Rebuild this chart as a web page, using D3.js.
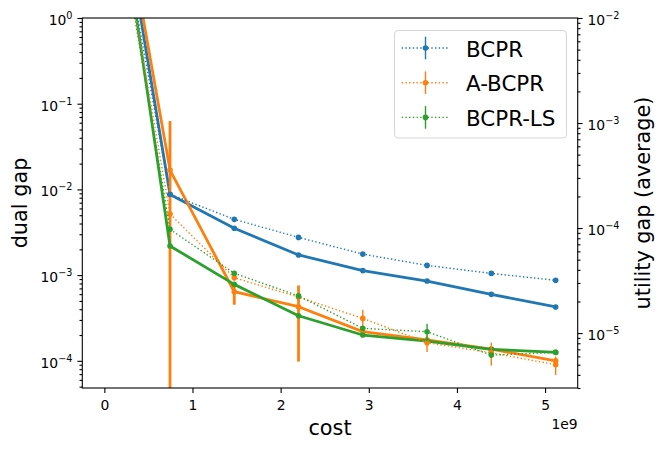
<!DOCTYPE html>
<html><head><meta charset="utf-8">
<script src="https://cdn.jsdelivr.net/npm/d3@7"></script>
<style>
body{margin:0;background:#fff;}
svg text{font-family:"DejaVu Sans",sans-serif;fill:#000;}
</style></head><body>
<svg id="c" width="665" height="450"></svg>
<script>
// ---------------- data ----------------
const methods = ["BCPR", "A-BCPR", "BCPR-LS"];
const colors = ["#1f77b4", "#ff7f0e", "#2ca02c"];
const cost = [0, 0.745e9, 1.474e9, 2.203e9, 2.932e9, 3.661e9, 4.39e9, 5.12e9];

const dualBCPR   = [360, 8.7e-3, 3.52e-3, 1.72e-3, 1.13e-3, 8.53e-4, 5.97e-4, 4.25e-4];
const dualABCPR  = [360, 1.68e-2, 6.4e-4, 4.28e-4, 2.19e-4, 1.76e-4, 1.37e-4, 1.0e-4];
const dualBCPRLS = [360, 2.19e-3, 7.8e-4, 3.36e-4, 2.0e-4, 1.7e-4, 1.36e-4, 1.26e-4];
const dualErrBCPR   = [0, 0, 0, 0, 0, 0, 0, 0];
const dualErrABCPR  = [0, 4.6e-2, 1.9e-4, 3.3e-4, 0, 0, 0, 0];
const dualErrBCPRLS = [0, 0, 0, 0, 0, 0, 0, 0];

const utilBCPR   = [0.55, 2.1e-4, 1.21e-4, 8.15e-5, 5.65e-5, 4.41e-5, 3.7e-5, 3.18e-5];
const utilABCPR  = [0.55, 1.36e-4, 3.37e-5, 2.2e-5, 1.38e-5, 8.1e-6, 6.5e-6, 5.0e-6];
const utilBCPRLS = [0.55, 9.72e-5, 3.71e-5, 2.26e-5, 1.11e-5, 1.03e-5, 6.17e-6, 6.55e-6];
const utilErrBCPR   = [0, 0, 0, 0, 0, 0, 0, 0];
const utilErrABCPR  = [0, 0, 2e-6, 0, 2.8e-6, 1.5e-6, 1.6e-6, 1.0e-6];
const utilErrBCPRLS = [0, 0, 0, 0, 0, 2e-6, 0, 0];

const xTicks = [0, 1e9, 2e9, 3e9, 4e9, 5e9];
const xTickLabels = ["0", "1", "2", "3", "4", "5"];
const leftTicks = [1e-4, 1e-3, 1e-2, 1e-1, 1];
const leftTickExp = ["\u22124", "\u22123", "\u22122", "\u22121", "0"];
const rightTicks = [1e-5, 1e-4, 1e-3, 1e-2];
const rightTickExp = ["\u22125", "\u22124", "\u22123", "\u22122"];

const dualSeries = [dualBCPR, dualABCPR, dualBCPRLS];
const dualErrs = [dualErrBCPR, dualErrABCPR, dualErrBCPRLS];
const utilSeries = [utilBCPR, utilABCPR, utilBCPRLS];
const utilErrs = [utilErrBCPR, utilErrABCPR, utilErrBCPRLS];

// ---------------- layout ----------------
const L = 82.3, R = 577.7, T = 18, B = 388;
const svg = d3.select("#c");
const x = d3.scaleLinear().domain([-0.25e9, 5.37e9]).range([L, R]);
const yL = d3.scaleLog().domain([4.82e-5, 1]).range([B, T]);
const yR = d3.scaleLog().domain([3e-6, 1e-2]).range([B, T]);

function minors(scale) {
  const [a, b] = scale.domain();
  const out = [];
  for (let e = Math.floor(Math.log10(a)); e <= Math.ceil(Math.log10(b)); e++) {
    for (let m = 2; m <= 9; m++) {
      const v = m * Math.pow(10, e);
      if (v >= a && v <= b) out.push(v);
    }
  }
  return out;
}

svg.append("defs").append("clipPath").attr("id", "clip")
  .append("rect").attr("x", L).attr("y", T).attr("width", R - L).attr("height", B - T);

const plot = svg.append("g").attr("clip-path", "url(#clip)");

function drawSeries(vals, errs, yS, color, lw, dash) {
  const g = plot.append("g");
  const pts = cost.map((c, i) => ({ c, v: vals[i], e: errs[i] }));
  pts.filter(p => p.e > 0).forEach(p => {
    const lo = Math.max(p.v - p.e, 1e-12);
    g.append("line")
      .attr("x1", x(p.c)).attr("x2", x(p.c))
      .attr("y1", yS(p.v + p.e)).attr("y2", yS(lo))
      .attr("stroke", color).attr("stroke-width", lw);
  });
  const line = d3.line().x(p => x(p.c)).y(p => yS(p.v));
  g.append("path").datum(pts).attr("d", line)
    .attr("fill", "none").attr("stroke", color).attr("stroke-width", lw)
    .attr("stroke-dasharray", dash || null)
    .attr("stroke-linejoin", "round").attr("stroke-linecap", dash ? "butt" : "square");
  g.selectAll("circle").data(pts).join("circle")
    .attr("cx", p => x(p.c)).attr("cy", p => yS(p.v)).attr("r", 2.8)
    .attr("fill", color);
}

for (let k = 0; k < 3; k++) drawSeries(dualSeries[k], dualErrs[k], yL, colors[k], 2.8, null);
for (let k = 0; k < 3; k++) drawSeries(utilSeries[k], utilErrs[k], yR, colors[k], 1.4, "1.4,2.3");

// ---------------- axes ----------------
function styleAxis(g) {
  g.select(".domain").remove();
  g.selectAll(".tick line").attr("stroke", "#000").attr("stroke-width", 1.1);
  g.selectAll(".tick text").attr("font-size", "13.9px").attr("font-family", "DejaVu Sans").attr("fill", "#000");
}

const gx = svg.append("g").attr("transform", `translate(0,${B})`)
  .call(d3.axisBottom(x).tickValues(xTicks).tickSize(4.9).tickPadding(4.9)
    .tickFormat((d, i) => xTickLabels[i]));
styleAxis(gx);
gx.selectAll(".tick text").attr("dy", null).attr("y", 22);

const gyLm = svg.append("g").attr("transform", `translate(${L},0)`)
  .call(d3.axisLeft(yL).tickValues(minors(yL)).tickSize(2.8).tickFormat(() => ""));
styleAxis(gyLm);
const gyL = svg.append("g").attr("transform", `translate(${L},0)`)
  .call(d3.axisLeft(yL).tickValues(leftTicks).tickSize(4.9).tickPadding(4.9).tickFormat(() => ""));
styleAxis(gyL);
gyL.selectAll(".tick text").each(function (d, i) {
  const t = d3.select(this).attr("dy", null).attr("y", 6.5).attr("text-anchor", "end");
  t.append("tspan").text("10");
  t.append("tspan").attr("dy", -6).attr("font-size", "9.7px").text(leftTickExp[i]);
});

const gyRm = svg.append("g").attr("transform", `translate(${R},0)`)
  .call(d3.axisRight(yR).tickValues(minors(yR)).tickSize(2.8).tickFormat(() => ""));
styleAxis(gyRm);
const gyR = svg.append("g").attr("transform", `translate(${R},0)`)
  .call(d3.axisRight(yR).tickValues(rightTicks).tickSize(4.9).tickPadding(4.9).tickFormat(() => ""));
styleAxis(gyR);
gyR.selectAll(".tick text").each(function (d, i) {
  const t = d3.select(this).attr("dy", null).attr("y", 6.5).attr("text-anchor", "start");
  t.append("tspan").text("10");
  t.append("tspan").attr("dy", -6).attr("font-size", "9.7px").text(rightTickExp[i]);
});

svg.append("rect").attr("x", L).attr("y", T).attr("width", R - L).attr("height", B - T)
  .attr("fill", "none").attr("stroke", "#000").attr("stroke-width", 1.1);

svg.append("text").attr("x", (L + R) / 2).attr("y", 435).attr("text-anchor", "middle")
  .attr("font-size", "20.8px").text("cost");
svg.append("text").attr("x", R).attr("y", 428.5).attr("text-anchor", "end")
  .attr("font-size", "13.9px").text("1e9");
svg.append("text").attr("transform", `translate(26.5,${(T + B) / 2}) rotate(-90)`)
  .attr("text-anchor", "middle").attr("font-size", "20.8px").text("dual gap");
svg.append("text").attr("transform", `translate(650,${(T + B) / 2}) rotate(-90)`)
  .attr("text-anchor", "middle").attr("font-size", "20.8px").text("utility gap (average)");

// ---------------- legend ----------------
const lg = svg.append("g");
lg.append("rect").attr("x", 394.5).attr("y", 30.5).attr("width", 172).attr("height", 107.5)
  .attr("rx", 3.5).attr("fill", "#fff").attr("fill-opacity", 0.8)
  .attr("stroke", "#cccccc").attr("stroke-opacity", 0.8).attr("stroke-width", 1);
methods.forEach((m, i) => {
  const cy = 48 + i * 34.7;
  const c = colors[i];
  lg.append("line").attr("x1", 401.7).attr("x2", 449.3).attr("y1", cy).attr("y2", cy)
    .attr("stroke", c).attr("stroke-width", 1.4).attr("stroke-dasharray", "1.4,2.3");
  lg.append("line").attr("x1", 425.5).attr("x2", 425.5).attr("y1", cy - 11.3).attr("y2", cy + 11.3)
    .attr("stroke", c).attr("stroke-width", 1.4);
  lg.append("circle").attr("cx", 425.5).attr("cy", cy).attr("r", 2.8).attr("fill", c);
  lg.append("text").attr("x", 466).attr("y", cy + 8.6).attr("font-size", "21.4px").text(m);
});
</script>
</body></html>
